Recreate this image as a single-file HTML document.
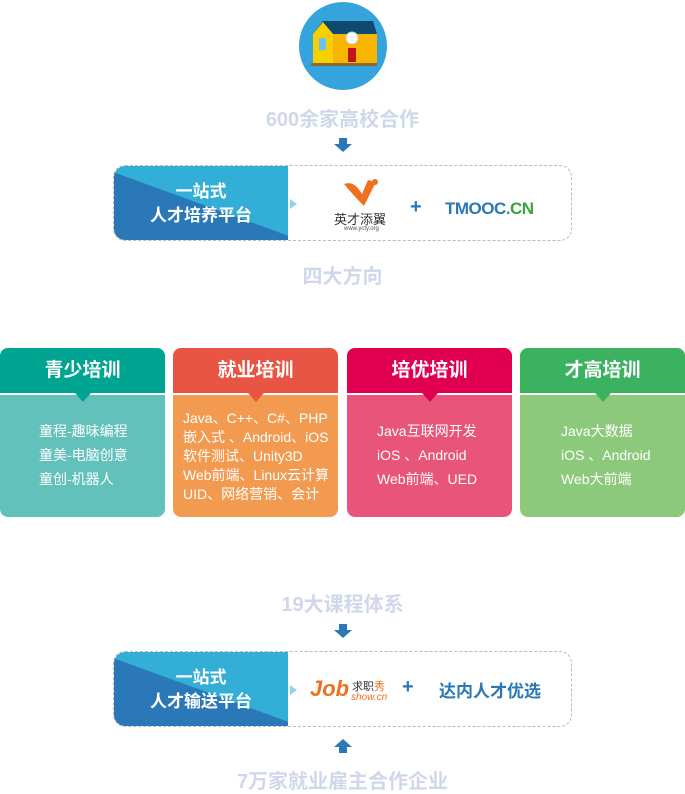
<!DOCTYPE html>
<html><head><meta charset="utf-8"><style>
*{margin:0;padding:0;box-sizing:border-box}
body{width:685px;height:789px;background:#fff;position:relative;font-family:"Liberation Sans","Noto Sans CJK SC",sans-serif;overflow:hidden}
.a{position:absolute}
.lbl{position:absolute;left:0;width:685px;text-align:center;color:#cfd8ea;font-weight:bold;font-size:20px}
.arr{position:absolute;width:18px;height:14px}
.box{position:absolute;left:113px;width:459px;height:76px;border:1px dashed #bbb;border-radius:12px;overflow:hidden}
.lb{position:absolute;left:0;top:0;width:174px;height:76px;background:linear-gradient(20deg,#2a78b8 50%,#33aed6 50%);color:#fff;font-weight:bold;font-size:17px;text-align:center;line-height:24px;padding-top:14px}
.card{position:absolute;top:348px;width:165px;height:169px;border-radius:8px;overflow:hidden}
.hd{height:45px;color:#fff;font-weight:bold;font-size:19px;text-align:center;line-height:45px;position:relative}
.hd:after{content:"";position:absolute;left:75px;bottom:-9px;border:8px solid transparent;border-bottom:0;border-top:9px solid var(--c)}
.bd{height:124px;border-top:2px solid #fff;color:#fff;font-size:14px;line-height:24px}
</style></head><body>
<div class="a" style="left:299px;top:2px;width:88px;height:88px;border-radius:50%;background:#35a4dd"></div>
<svg class="a" style="left:309px;top:18px" width="68" height="50">
<polygon points="4,16 14,3 64,3 68,16" fill="#0e4a6f"/>
<rect x="4" y="16" width="20" height="30" fill="#f7d000"/>
<polygon points="4,16 14,4 24,16" fill="#f7d000"/>
<rect x="24" y="16" width="44" height="30" fill="#f7b500"/>
<rect x="10" y="20" width="7" height="12" fill="#6cc1f0"/>
<circle cx="43" cy="20" r="6" fill="#fff" stroke="#ccc"/>
<rect x="39" y="30" width="8" height="14" fill="#c0141c"/>
<rect x="2" y="45" width="66" height="3" fill="#8a6a30"/>
</svg>
<div class="lbl" style="top:103px">600余家高校合作</div>
<svg class="arr" style="left:334px;top:138px" viewBox="0 0 18 14"><polygon points="5,0 13,0 13,6 18,6 9,14 0,6 5,6" fill="#2a78b8"/></svg>
<div class="box" style="top:165px"><div class="lb">一站式<br>人才培养平台</div>
<div class="a" style="left:176px;top:33px;border:5px solid transparent;border-left:7px solid #8fd3f2"></div>
<svg class="a" style="left:228px;top:10px" width="40" height="32"><path d="M2,8 Q12,4 20,18 L26,4 L34,6 L22,30 Q12,20 2,8Z" fill="#f07020"/><circle cx="33" cy="6" r="3" fill="#f07020"/></svg>
<div class="a" style="left:220px;top:43px;font-size:13px;color:#333">英才添翼</div>
<div class="a" style="left:230px;top:60px;font-size:6px;color:#555">www.ycty.org</div>
<div class="a" style="left:296px;top:30px;font-size:20px;color:#2a78b8;font-weight:bold">+</div>
<div class="a" style="left:331px;top:33px;font-size:17px;color:#2a78b8;font-weight:bold;letter-spacing:-0.5px">TMOOC<span style="color:#3aa040">.CN</span></div>
</div>
<div class="lbl" style="top:260px">四大方向</div>

<div class="card" style="left:0;background:#62c2bb"><div class="hd" style="background:#00a591;--c:#00a591">青少培训</div><div class="bd" style="padding:24px 0 0 39px">童程-趣味编程<br>童美-电脑创意<br>童创-机器人</div></div>
<div class="card" style="left:173px;background:#f39a51"><div class="hd" style="background:#e95545;--c:#e95545">就业培训</div><div class="bd" style="padding:14px 0 0 10px;line-height:19px">Java、C++、C#、PHP<br>嵌入式 、Android、iOS<br>软件测试、Unity3D<br>Web前端、Linux云计算<br>UID、网络营销、会计</div></div>
<div class="card" style="left:347px;background:#e8547a"><div class="hd" style="background:#e0004f;--c:#e0004f">培优培训</div><div class="bd" style="padding:24px 0 0 30px">Java互联网开发<br>iOS 、Android<br>Web前端、UED</div></div>
<div class="card" style="left:520px;background:#8dc97b"><div class="hd" style="background:#3ab260;--c:#3ab260">才高培训</div><div class="bd" style="padding:24px 0 0 41px">Java大数据<br>iOS 、Android<br>Web大前端</div></div>

<div class="lbl" style="top:588px">19大课程体系</div>
<svg class="arr" style="left:334px;top:624px" viewBox="0 0 18 14"><polygon points="5,0 13,0 13,6 18,6 9,14 0,6 5,6" fill="#2a78b8"/></svg>
<div class="box" style="top:651px"><div class="lb">一站式<br>人才输送平台</div>
<div class="a" style="left:176px;top:33px;border:5px solid transparent;border-left:7px solid #8fd3f2"></div>
<div class="a" style="left:196px;top:24px;font-size:22px;color:#f07020;font-weight:bold;font-style:italic">Job</div>
<div class="a" style="left:238px;top:26px;font-size:11px;color:#333">求职<span style="color:#f07020">秀</span></div>
<div class="a" style="left:237px;top:40px;font-size:10px;color:#f07020;font-style:italic">show.cn</div>
<div class="a" style="left:288px;top:24px;font-size:20px;color:#2a78b8;font-weight:bold">+</div>
<div class="a" style="left:325px;top:25px;font-size:17px;color:#2a78b8;font-weight:bold">达内人才优选</div>
</div>
<svg class="arr" style="left:334px;top:739px" viewBox="0 0 18 14"><polygon points="5,14 13,14 13,8 18,8 9,0 0,8 5,8" fill="#2a78b8"/></svg>
<div class="lbl" style="top:765px">7万家就业雇主合作企业</div>
</body></html>
